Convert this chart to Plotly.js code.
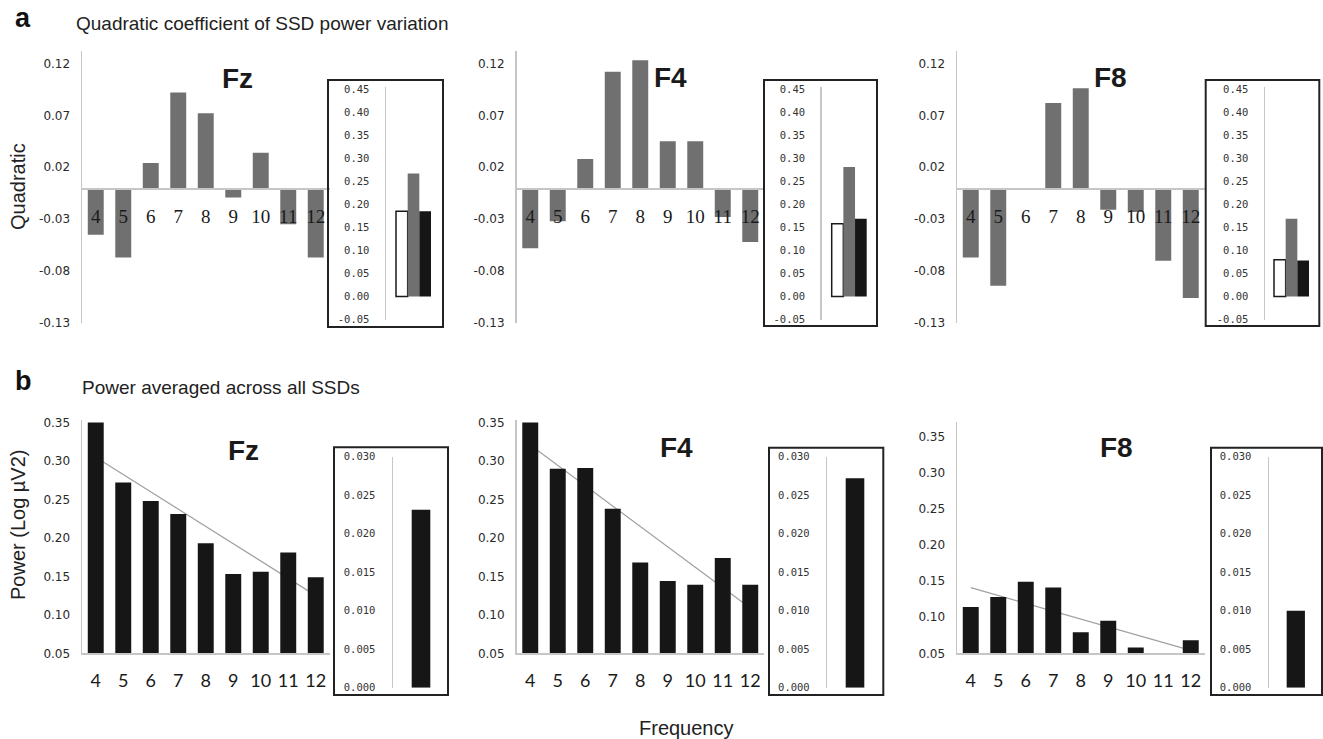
<!DOCTYPE html>
<html>
<head>
<meta charset="utf-8">
<script src="https://cdn.plot.ly/plotly-3.0.1.min.js"></script>
<style>html,body{margin:0;padding:0;background:#fff;}#chart{width:1323px;height:739px;}</style>
</head>
<body>
<div id="chart"></div>
<script>
// ---------------- DATA ----------------
const electrodes = ['Fz', 'F4', 'F8'];
const freqs = [4, 5, 6, 7, 8, 9, 10, 11, 12];
const freqLabels = ['4', '5', '6', '7', '8', '9', '10', '11', '12'];

// (a) quadratic coefficient of SSD power variation
const quadFz = [-0.045, -0.067, 0.024, 0.092, 0.072, -0.009, 0.034, -0.035, -0.067];
const quadF4 = [-0.058, -0.032, 0.028, 0.112, 0.123, 0.045, 0.045, -0.028, -0.052];
const quadF8 = [-0.067, -0.094, -0.001, 0.082, 0.096, -0.021, -0.023, -0.070, -0.106];
// inset bars (Fz, F4, F8)
const quadInsetWhite = [0.185, 0.158, 0.080];
const quadInsetGray  = [0.267, 0.281, 0.169];
const quadInsetBlack = [0.185, 0.169, 0.078];

// (b) power averaged across all SSDs
const powFz = [0.350, 0.272, 0.248, 0.231, 0.193, 0.153, 0.156, 0.181, 0.149];
const powF4 = [0.350, 0.290, 0.291, 0.238, 0.168, 0.144, 0.139, 0.174, 0.139];
const powF8 = [0.114, 0.128, 0.149, 0.141, 0.079, 0.095, 0.058, 0.048, 0.068];
// linear trend lines (values at 4 Hz and 12 Hz)
const trendX  = [4, 12];
const trendFz = [0.305, 0.125];
const trendF4 = [0.321, 0.109];
const trendF8 = [0.141, 0.054];
// inset bars (Fz, F4, F8)
const powInset = [0.0231, 0.0272, 0.0100];

// tick labels
const quadTicks = [-0.13, -0.08, -0.03, 0.02, 0.07, 0.12];
const quadTickText = ['-0.13', '-0.08', '-0.03', '0.02', '0.07', '0.12'];
const quadInsetTicks = [-0.05, 0, 0.05, 0.10, 0.15, 0.20, 0.25, 0.30, 0.35, 0.40, 0.45];
const quadInsetTickText = ['-0.05', '0.00', '0.05', '0.10', '0.15', '0.20', '0.25', '0.30', '0.35', '0.40', '0.45'];
const powTicks = [0.05, 0.10, 0.15, 0.20, 0.25, 0.30, 0.35];
const powTickText = ['0.05', '0.10', '0.15', '0.20', '0.25', '0.30', '0.35'];
const powInsetTicks = [0, 0.005, 0.010, 0.015, 0.020, 0.025, 0.030];
const powInsetTickText = ['0.000', '0.005', '0.010', '0.015', '0.020', '0.025', '0.030'];

// ---------------- LAYOUT HELPERS ----------------
const W = 1323, H = 739;
const dx = p => p / W;
const dy = p => 1 - p / H;
const ax = n => (n === 1 ? '' : String(n));

const GRAY_BAR = '#707070', BLACK_BAR = '#161616', AXIS_GRAY = '#c6c6c6';
const tickFontMain = {family: 'DejaVu Sans, Verdana, sans-serif', size: 12, color: '#2a2a2a'};
const tickFontInset = {family: 'DejaVu Sans Mono, Liberation Mono, monospace', size: 10.5, color: '#333'};

const quadData = [quadFz, quadF4, quadF8];
const powData = [powFz, powF4, powF8];
const trendData = [trendFz, trendF4, trendF8];

// geometry (pixels)
const mainLeft = [82, 516.5, 957];
const catPx = 27.5;
const topMain = {top: 51, bottom: 323, range: [-0.13, 0.132]};
const botMain = [
  {top: 420, bottom: 653.3, range: [0.05, 0.3534]},
  {top: 420, bottom: 653.3, range: [0.05, 0.3534]},
  {top: 421.7, bottom: 653.3, range: [0.05, 0.3708]}
];
const topInsetAxis = [386, 821.7, 1265];
const topInsetCenter = [413.5, 849.2, 1291.5];
const topInsetUnit = 35 / 0.58;
const botInsetAxis = [393, 827.3, 1269];
const botInsetCenter = [421, 855, 1296.3];
const botInsetUnit = 18.6 / 0.58;
const topBoxes = [[328, 80, 443, 327], [764, 80, 877, 326], [1205.7, 80, 1319.3, 326]];
const botBoxes = [[334, 447.3, 448, 695], [769, 447.7, 883.3, 695], [1211, 447.7, 1322, 695]];

const data = [];
const layout = {
  width: W, height: H,
  margin: {l: 0, r: 0, t: 0, b: 0},
  paper_bgcolor: '#fff', plot_bgcolor: 'rgba(0,0,0,0)',
  showlegend: false,
  barmode: 'group', bargap: 0.42, bargroupgap: 0,
  font: {family: 'Liberation Sans, Arial, sans-serif', color: '#222'},
  shapes: [], annotations: []
};

for (let i = 0; i < 3; i++) {
  // ---- (a) main ----
  const nA = 1 + i;
  const xd = [dx(mainLeft[i]), dx(mainLeft[i] + 9 * catPx)];
  const yd = [dy(topMain.bottom), dy(topMain.top)];
  const zeroPos = yd[0] + (0 - topMain.range[0]) / (topMain.range[1] - topMain.range[0]) * (yd[1] - yd[0]);
  layout['xaxis' + ax(nA)] = {
    domain: xd, range: [3.5, 12.5], anchor: 'free', position: zeroPos,
    tickvals: freqs, ticktext: freqLabels,
    showline: true, linecolor: AXIS_GRAY, linewidth: 1.5,
    ticks: 'outside', ticklen: 11, tickcolor: 'rgba(0,0,0,0)',
    tickfont: {family: 'Liberation Serif, Times New Roman, serif', size: 19, color: '#1a1a1a'},
    showgrid: false, zeroline: false, fixedrange: true
  };
  layout['yaxis' + ax(nA)] = {
    domain: yd, range: topMain.range, anchor: 'x' + ax(nA),
    tickvals: quadTicks, ticktext: quadTickText,
    showline: true, linecolor: AXIS_GRAY, linewidth: 1.5,
    ticks: 'outside', ticklen: 8, tickcolor: 'rgba(0,0,0,0)', tickfont: tickFontMain,
    showgrid: false, zeroline: false, fixedrange: true
  };
  data.push({type: 'bar', x: freqs, y: quadData[i], xaxis: 'x' + ax(nA), yaxis: 'y' + ax(nA),
    marker: {color: GRAY_BAR, line: {width: 0}}, hoverinfo: 'x+y'});

  // ---- (a) inset ----
  const nB = 4 + i;
  const w = 57;
  layout['xaxis' + nB] = {
    domain: [dx(topInsetAxis[i]), dx(topInsetAxis[i] + w)],
    range: [-(topInsetCenter[i] - topInsetAxis[i]) / topInsetUnit, (topInsetAxis[i] + w - topInsetCenter[i]) / topInsetUnit],
    type: 'category', anchor: 'y' + nB,
    showline: false, showticklabels: false, ticks: '', showgrid: false, zeroline: false, fixedrange: true
  };
  layout['yaxis' + nB] = {
    domain: [dy(319.5), dy(87)], range: [-0.05, 0.455], anchor: 'x' + nB,
    tickvals: quadInsetTicks, ticktext: quadInsetTickText,
    showline: true, linecolor: AXIS_GRAY, linewidth: 1.5,
    ticks: 'outside', ticklen: 13, tickcolor: 'rgba(0,0,0,0)', tickfont: tickFontInset,
    showgrid: false, zeroline: false, fixedrange: true
  };
  const cat = [electrodes[i]];
  data.push({type: 'bar', x: cat, y: [quadInsetWhite[i]], xaxis: 'x' + nB, yaxis: 'y' + nB,
    marker: {color: '#ffffff', line: {color: '#1a1a1a', width: 1.5}}});
  data.push({type: 'bar', x: cat, y: [quadInsetGray[i]], xaxis: 'x' + nB, yaxis: 'y' + nB,
    marker: {color: GRAY_BAR, line: {width: 0}}});
  data.push({type: 'bar', x: cat, y: [quadInsetBlack[i]], xaxis: 'x' + nB, yaxis: 'y' + nB,
    marker: {color: BLACK_BAR, line: {width: 0}}});

  // ---- (b) trend base subplot (drawn beneath the bars) ----
  const nT = 13 + i;
  const bm = botMain[i];
  layout['xaxis' + nT] = {
    domain: xd, range: [3.5, 12.5], anchor: 'y' + nT,
    showline: false, showticklabels: false, ticks: '', showgrid: false, zeroline: false, fixedrange: true
  };
  layout['yaxis' + nT] = {
    domain: [dy(bm.bottom), dy(bm.top)], range: bm.range, anchor: 'x' + nT,
    showline: false, showticklabels: false, ticks: '', showgrid: false, zeroline: false, fixedrange: true
  };
  data.push({type: 'scatter', mode: 'lines', x: trendX, y: trendData[i], xaxis: 'x' + nT, yaxis: 'y' + nT,
    line: {color: '#a0a0a0', width: 1.2}, hoverinfo: 'skip'});

  // ---- (b) main (overlaying trend subplot) ----
  const nC = 7 + i;
  layout['xaxis' + nC] = {
    overlaying: 'x' + nT, range: [3.5, 12.5], anchor: 'y' + nC, side: 'bottom',
    tickvals: freqs, ticktext: freqLabels,
    showline: true, linecolor: AXIS_GRAY, linewidth: 1.5,
    ticks: 'outside', ticklen: 11, tickcolor: 'rgba(0,0,0,0)',
    tickfont: {family: 'Lato, DejaVu Sans, sans-serif', size: 18, color: '#1a1a1a'},
    showgrid: false, zeroline: false, fixedrange: true
  };
  layout['yaxis' + nC] = {
    overlaying: 'y' + nT, range: bm.range, anchor: 'x' + nC, side: 'left',
    tickvals: powTicks, ticktext: powTickText,
    showline: true, linecolor: AXIS_GRAY, linewidth: 1.5,
    ticks: 'outside', ticklen: 8, tickcolor: 'rgba(0,0,0,0)', tickfont: tickFontMain,
    showgrid: false, zeroline: false, fixedrange: true
  };
  data.push({type: 'bar', x: freqs, y: powData[i], xaxis: 'x' + nC, yaxis: 'y' + nC,
    marker: {color: BLACK_BAR, line: {width: 0}}});

  // ---- (b) inset ----
  const nD = 10 + i;
  const w2 = 55;
  layout['xaxis' + nD] = {
    domain: [dx(botInsetAxis[i]), dx(botInsetAxis[i] + w2)],
    range: [-(botInsetCenter[i] - botInsetAxis[i]) / botInsetUnit, (botInsetAxis[i] + w2 - botInsetCenter[i]) / botInsetUnit],
    type: 'category', anchor: 'y' + nD,
    showline: false, showticklabels: false, ticks: '', showgrid: false, zeroline: false, fixedrange: true
  };
  layout['yaxis' + nD] = {
    domain: [dy(687.7), dy(456.7)], range: [0, 0.030], anchor: 'x' + nD,
    tickvals: powInsetTicks, ticktext: powInsetTickText,
    showline: true, linecolor: AXIS_GRAY, linewidth: 1.5,
    ticks: 'outside', ticklen: 14, tickcolor: 'rgba(0,0,0,0)', tickfont: tickFontInset,
    showgrid: false, zeroline: false, fixedrange: true
  };
  data.push({type: 'bar', x: cat, y: [powInset[i]], xaxis: 'x' + nD, yaxis: 'y' + nD,
    marker: {color: BLACK_BAR, line: {width: 0}}});

  // inset frames
  [topBoxes[i], botBoxes[i]].forEach(b => {
    layout.shapes.push({type: 'rect', xref: 'paper', yref: 'paper',
      x0: dx(b[0]), x1: dx(b[2]), y0: dy(b[3]), y1: dy(b[1]),
      line: {color: '#222', width: 2}, fillcolor: 'rgba(0,0,0,0)', layer: 'above'});
  });
}

// electrode titles
const titleFont = {family: 'Liberation Sans, Arial, sans-serif', size: 28, color: '#1a1a1a'};
const topTitlePos = [[237, 79], [670, 77], [1110, 77]];
const botTitlePos = [[243, 450], [676, 447], [1116, 447]];
for (let i = 0; i < 3; i++) {
  layout.annotations.push({xref: 'paper', yref: 'paper', x: dx(topTitlePos[i][0]), y: dy(topTitlePos[i][1]),
    text: '<b>' + electrodes[i] + '</b>', showarrow: false, xanchor: 'center', yanchor: 'middle', font: titleFont});
  layout.annotations.push({xref: 'paper', yref: 'paper', x: dx(botTitlePos[i][0]), y: dy(botTitlePos[i][1]),
    text: '<b>' + electrodes[i] + '</b>', showarrow: false, xanchor: 'center', yanchor: 'middle', font: titleFont});
}

// panel labels and subtitles
const lblFont = {family: 'Liberation Sans, Arial, sans-serif', size: 27, color: '#111'};
const subFont = {family: 'Liberation Sans, Arial, sans-serif', size: 19, color: '#222'};
const axTitleFont = {family: 'Liberation Sans, Arial, sans-serif', size: 20, color: '#222'};
layout.annotations.push(
  {xref: 'paper', yref: 'paper', x: dx(13), y: dy(18), text: '<b>a</b>', showarrow: false, xanchor: 'left', yanchor: 'middle', font: lblFont},
  {xref: 'paper', yref: 'paper', x: dx(74), y: dy(24), text: 'Quadratic coefficient of SSD power variation', showarrow: false, xanchor: 'left', yanchor: 'middle', font: subFont},
  {xref: 'paper', yref: 'paper', x: dx(13), y: dy(381), text: '<b>b</b>', showarrow: false, xanchor: 'left', yanchor: 'middle', font: lblFont},
  {xref: 'paper', yref: 'paper', x: dx(80), y: dy(387), text: 'Power averaged across all SSDs', showarrow: false, xanchor: 'left', yanchor: 'middle', font: subFont},
  {xref: 'paper', yref: 'paper', x: dx(18), y: dy(187), text: 'Quadratic', textangle: -90, showarrow: false, xanchor: 'center', yanchor: 'middle', font: axTitleFont},
  {xref: 'paper', yref: 'paper', x: dx(18), y: dy(525), text: 'Power (Log \u00b5V2)', textangle: -90, showarrow: false, xanchor: 'center', yanchor: 'middle', font: axTitleFont},
  {xref: 'paper', yref: 'paper', x: dx(686), y: dy(728), text: 'Frequency', showarrow: false, xanchor: 'center', yanchor: 'middle', font: axTitleFont}
);

Plotly.newPlot('chart', data, layout, {staticPlot: true, displayModeBar: false});
</script>
</body>
</html>
